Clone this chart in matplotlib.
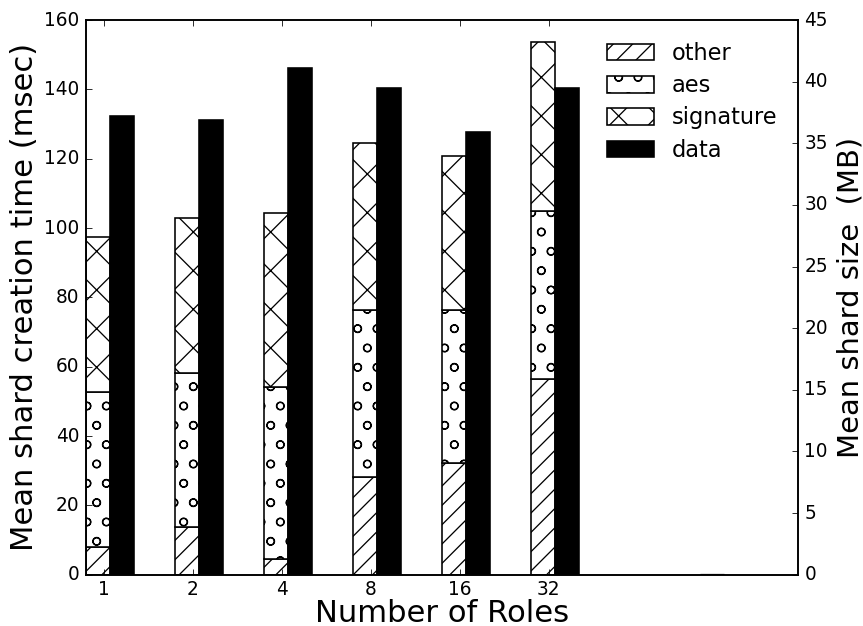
import numpy as np
import matplotlib
matplotlib.use('Agg')
import matplotlib.pyplot as plt

# values
roles = ['1', '2', '4', '8', '16', '32']
other = [8.0, 13.7, 4.6, 28.3, 32.1, 56.4]        # msec
aes = [44.8, 44.6, 49.6, 48.1, 44.3, 48.5]         # msec
signature = [44.7, 44.5, 50.2, 48.2, 44.5, 48.9]   # msec
data_mb = [37.2, 36.9, 41.1, 39.5, 35.9, 39.5]     # MB
extra_pos = [6.9]   # empty trailing bar seen at the baseline
extra_val = [0.0]

plt.style.use('classic')
plt.rcParams['font.family'] = 'DejaVu Sans'
plt.rcParams['hatch.linewidth'] = 0.8

ind = np.arange(len(roles))
width = 0.27

# dpi 116 so the hatch tile matches the reference's pattern size
DPI = 116
fig = plt.figure(figsize=(863 / DPI, 626 / DPI), dpi=DPI)
ax = fig.add_axes([0.0997, 0.082, 0.825, 0.886])
ax2 = ax.twinx()

bot_aes = np.array(other)
bot_sig = bot_aes + np.array(aes)
b1 = ax.bar(ind, other, width, align='edge', color='white',
            edgecolor='black', hatch='//')
b2 = ax.bar(ind, aes, width, bottom=bot_aes, align='edge', color='white',
            edgecolor='black', hatch='o')
b3 = ax.bar(ind, signature, width, bottom=bot_sig, align='edge', color='white',
            edgecolor='black', hatch='x')
b4 = ax2.bar(ind + width, data_mb, width, align='edge', color='black',
             edgecolor='black')
ax2.bar(extra_pos, extra_val, width, align='edge', color='black',
        edgecolor='black', linewidth=2)

ax.set_xlim(0, 8)
ax.set_ylim(0, 160)
ax2.set_ylim(0, 45)
ax.set_xticks(ind + 0.2)
ax.set_xticklabels(roles)
ax.tick_params(labelsize=11.5)
ax.tick_params(axis='x', pad=3)
ax2.tick_params(labelsize=11.5)

ax.set_xlabel('Number of Roles', fontsize=19, labelpad=0)
ax.set_ylabel('Mean shard creation time (msec)', fontsize=19, labelpad=3)
ax2.set_ylabel('Mean shard size  (MB)', fontsize=18)

ax2.legend([b1, b2, b3, b4], ['other', 'aes', 'signature', 'data'],
           loc='upper right', bbox_to_anchor=(1.0, 0.997), frameon=False,
           fontsize=14, handlelength=2.1, handleheight=0.75, labelspacing=0.41)

fig.savefig('out.png', dpi=DPI)
